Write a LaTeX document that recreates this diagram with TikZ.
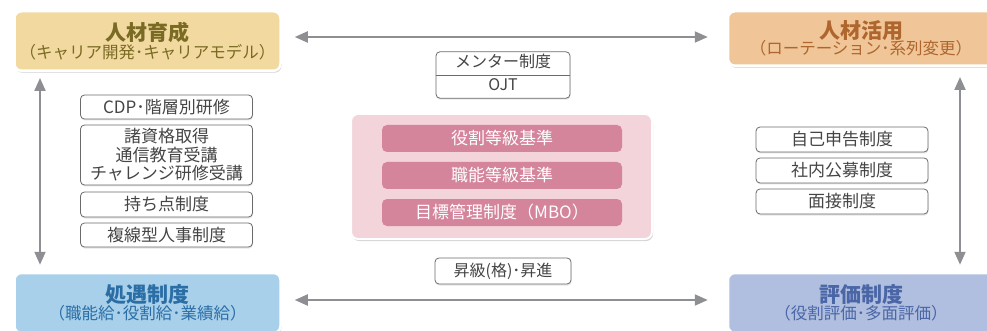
\documentclass[tikz,border=0pt]{standalone}
\usepackage{fontspec}
\setmainfont{Noto Sans CJK JP}
\usetikzlibrary{shapes.multipart}
\usetikzlibrary{arrows.meta}
\usetikzlibrary{shadows}

\definecolor{trainfill}{HTML}{F2D9A0}
\definecolor{traintext}{HTML}{7A6B24}
\definecolor{usefill}{HTML}{F0C597}
\definecolor{usetext}{HTML}{AE662E}
\definecolor{payfill}{HTML}{A8D0EA}
\definecolor{paytext}{HTML}{2B6EA6}
\definecolor{evalfill}{HTML}{B0BFDF}
\definecolor{evaltext}{HTML}{4A66A6}
\definecolor{panelpink}{HTML}{F2D4DA}
\definecolor{barpink}{HTML}{D4849B}
\definecolor{arrowgray}{HTML}{8D8F93}
\definecolor{boxline}{HTML}{6B6B6B}
\definecolor{boxtext}{HTML}{454545}

\begin{document}
\begin{tikzpicture}[x=1pt,y=-1pt,
    bigbox/.style={rectangle, rounded corners=7pt, draw=white, line width=2.5pt, fill=#1,
      minimum width=266pt, align=center, inner sep=0pt,
      drop shadow={opacity=0.35, shadow xshift=1pt, shadow yshift=-2pt}},
    smallbox/.style={rectangle, rounded corners=4pt, draw=boxline, line width=0.8pt, fill=white,
      text=boxtext, minimum width=172pt, inner sep=0pt, align=center,
      font=\fontsize{17}{18.5}\selectfont,
      drop shadow={opacity=0.2, shadow xshift=0.5pt, shadow yshift=-1.5pt}},
    bar/.style={rectangle, rounded corners=5pt, fill=barpink, text=white,
      minimum width=240pt, minimum height=27pt, inner sep=0pt,
      font=\fontsize{17}{18}\selectfont},
    twoway/.style={<->, >={Triangle[length=13pt,width=11pt]}, line width=2pt, draw=arrowgray}]

  \useasboundingbox (0,0) rectangle (987,331);

  % the four corners
  \node[bigbox=trainfill, text=traintext, minimum height=59.5pt] (TrainBox) at (147.5,41) {
    {\fontsize{21}{24}\selectfont\bfseries 人材育成}\\[1pt]
    {\fontsize{16.5}{19}\selectfont （キャリア開発･キャリアモデル）}
  };
  \node[bigbox=usefill, text=usetext, minimum height=54.5pt] (UseBox) at (861,38.5) {
    {\fontsize{21}{24}\selectfont\bfseries 人材活用}\\[-1pt]
    {\fontsize{16.5}{19}\selectfont （ローテーション･系列変更）}
  };
  \node[bigbox=payfill, text=paytext, minimum height=60pt] (PayBox) at (147.5,303) {
    {\fontsize{21}{24}\selectfont\bfseries 処遇制度}\\[0pt]
    {\fontsize{16.5}{19}\selectfont （職能給･役割給･業績給）}
  };
  \node[bigbox=evalfill, text=evaltext, minimum height=60pt] (EvalBox) at (861,303) {
    {\fontsize{21}{24}\selectfont\bfseries 評価制度}\\[0pt]
    {\fontsize{16.5}{19}\selectfont （役割評価･多面評価）}
  };

  % left column
  \node[smallbox, minimum height=24pt] (CdpBox) at (166.5,107) {CDP･階層別研修};
  \node[smallbox, minimum height=60pt] (QualBox) at (166.5,155) {諸資格取得\\通信教育受講\\チャレンジ研修受講};
  \node[smallbox, minimum height=25pt] (PointBox) at (166.5,204.5) {持ち点制度};
  \node[smallbox, minimum height=24pt] (TrackBox) at (166.5,235) {複線型人事制度};

  % right column
  \node[smallbox, minimum height=25pt] (SelfBox) at (842,139.5) {自己申告制度};
  \node[smallbox, minimum height=25pt] (PostBox) at (842,170.5) {社内公募制度};
  \node[smallbox, minimum height=25pt] (TalkBox) at (842,201.5) {面接制度};

  % centre
  \node[rectangle split, rectangle split parts=2, draw=boxline, line width=0.8pt, fill=white,
    rounded corners=4pt, text=boxtext, text width=134pt, align=center, inner ysep=2pt, inner xsep=0pt,
    font=\fontsize{16}{18}\selectfont, anchor=center,
    drop shadow={opacity=0.2, shadow xshift=0.5pt, shadow yshift=-1.5pt}] (MentorBox) at (503,75) {
    \nodepart{one}\strut メンター制度
    \nodepart{two}\strut OJT
  };
  \node[smallbox, minimum width=136pt, minimum height=26pt, font=\fontsize{16}{18}\selectfont] (PromoBox) at (503,271) {昇級(格)･昇進};

  \node[rectangle, rounded corners=7pt, draw=white, line width=2pt, fill=panelpink,
    minimum width=301pt, minimum height=125pt,
    drop shadow={opacity=0.35, shadow xshift=1pt, shadow yshift=-2pt}] (GradePanel) at (501.5,176.5) {};
  \node[bar] (RoleBar) at (502,138.5) {役割等級基準};
  \node[bar] (SkillBar) at (502,175.5) {職能等級基準};
  \node[bar] (MboBar) at (502,212.5) {目標管理制度（MBO）};

  \coordinate (LeftRail) at (40,0);
  \coordinate (RightRail) at (960,0);

  \draw[twoway, shorten <=13pt, shorten >=19pt] ([yshift=4pt]TrainBox.east) -- ([yshift=4pt]TrainBox.east -| UseBox.west);
  \draw[twoway, shorten <=13pt, shorten >=19pt] ([yshift=3pt]PayBox.east) -- ([yshift=3pt]PayBox.east -| EvalBox.west);
  \draw[twoway, shorten <=6pt, shorten >=7pt] (TrainBox.south -| LeftRail) -- (PayBox.north -| LeftRail);
  \draw[twoway, shorten <=10pt, shorten >=7pt] (UseBox.south -| RightRail) -- (EvalBox.north -| RightRail);
\end{tikzpicture}
\end{document}
